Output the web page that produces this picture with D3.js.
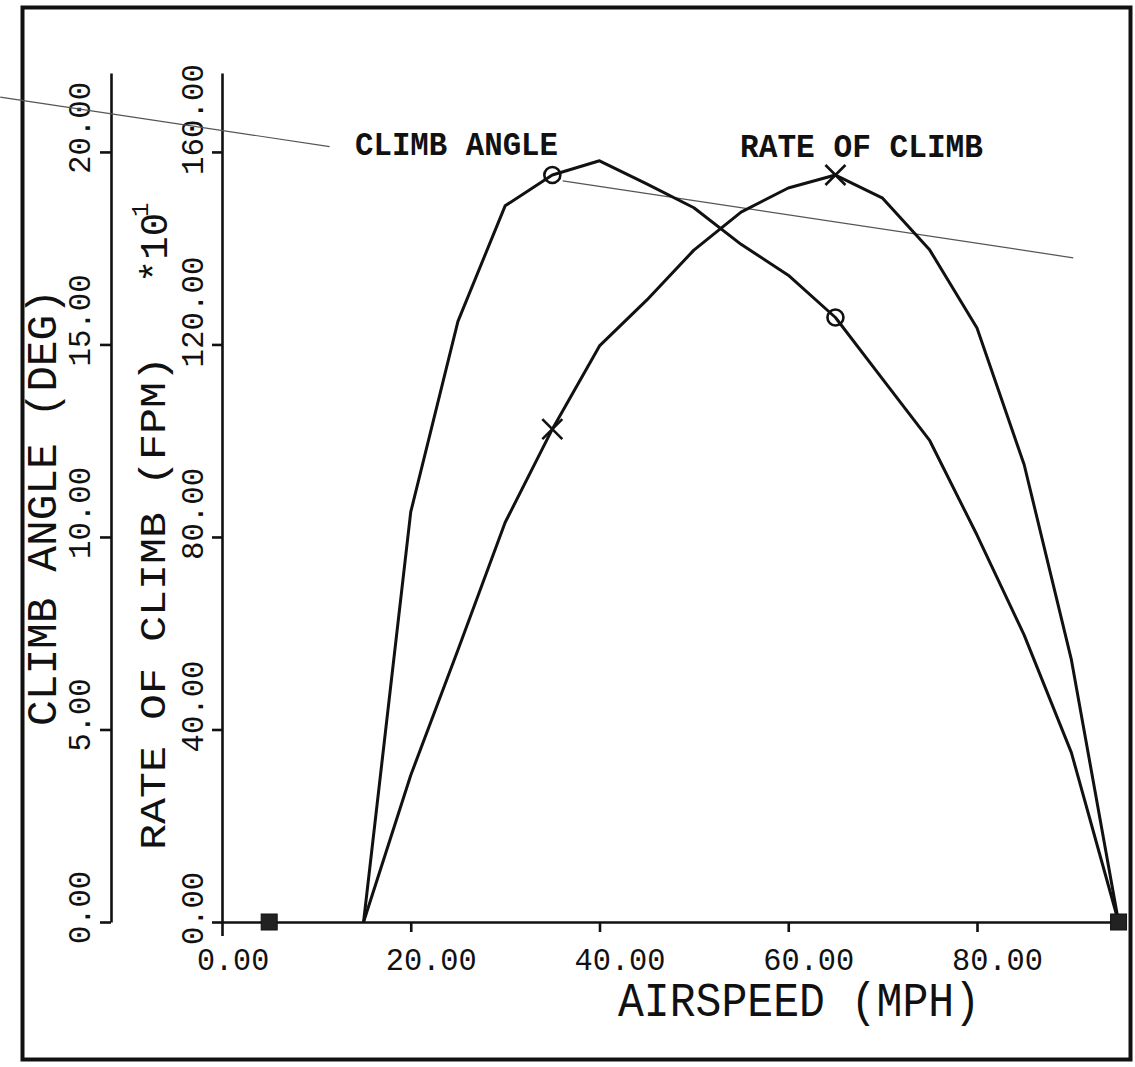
<!DOCTYPE html>
<html>
<head>
<meta charset="utf-8">
<script src="https://cdn.jsdelivr.net/npm/d3@7"></script>
<style>
  html, body { margin: 0; padding: 0; background: #fff; }
  svg { display: block; }
  text { font-family: "Liberation Mono", "DejaVu Sans Mono", monospace; fill: #111; }
</style>
</head>
<body>
<svg id="chart" width="1135" height="1067"></svg>
<script>
// ---------------- data ----------------
const airspeed     = [15, 20, 25, 30, 35, 40, 45, 50, 55, 60, 65, 70, 75, 80, 85, 90, 95];
const climbAngle   = [0, 10.65, 15.6, 18.6, 19.4, 19.77, 19.17, 18.55, 17.6, 16.8, 15.7, 14.1, 12.5, 10.05, 7.45, 4.4, 0];
const rateOfClimb  = [0, 30.5, 56.5, 83, 102.4, 119.7, 129.2, 139.6, 147.5, 152.5, 155.2, 150.4, 139.6, 123.4, 95, 54.5, 0];
const markerSpeeds = [35, 65];
const squareSpeeds = [5, 95];
const xTicks       = [0, 20, 40, 60, 80];
const degTicks     = [0, 5, 10, 15, 20];
const rateTicks    = [0, 40, 80, 120, 160];
// thin reference line (airspeed, rate-of-climb units), drawn in two pieces
const guideA = [[-23.5, 171.4], [11.4, 161.1]];
const guideB = [[36.1, 154.0], [90.2, 138.0]];

// ---------------- scales ----------------
const svg = d3.select("#chart");
const x = d3.scaleLinear().domain([0, 95]).range([222, 222 + 95 * 9.4375]);
const yDeg = d3.scaleLinear().domain([0, 22.05]).range([922, 73]);
const yRate = d3.scaleLinear().domain([0, 176.4]).range([922, 73]);

// frame
svg.append("rect").attr("x", 22.5).attr("y", 7.5).attr("width", 1108).attr("height", 1052)
  .attr("fill", "none").attr("stroke", "#111").attr("stroke-width", 4);

// axes
function styleAxis(g) {
  g.selectAll("path.domain").attr("stroke", "#111").attr("stroke-width", 2.6);
  g.selectAll(".tick line").attr("stroke", "#111").attr("stroke-width", 2.6);
  g.selectAll(".tick text").remove();
}
const degAxis = svg.append("g").attr("transform", "translate(111,0)")
  .call(d3.axisLeft(yDeg).tickValues(degTicks).tickSizeInner(11).tickSizeOuter(0).tickFormat(""));
styleAxis(degAxis);
const rateAxis = svg.append("g").attr("transform", "translate(222,0)")
  .call(d3.axisLeft(yRate).tickValues(rateTicks).tickSizeInner(10).tickSizeOuter(0).tickFormat(""));
styleAxis(rateAxis);
const xAxis = svg.append("g").attr("transform", "translate(0,922)")
  .call(d3.axisBottom(x).tickValues(xTicks).tickSizeInner(10).tickSizeOuter(0).tickFormat(""));
styleAxis(xAxis);
xAxis.selectAll(".tick line").filter(d => d === 0).attr("y2", 14);

// tick labels
const fmt = d3.format(".2f");
svg.append("g").selectAll("text").data(xTicks).join("text")
  .attr("x", d => x(d) - 25).attr("y", 970)
  .attr("font-size", 31).attr("textLength", d => fmt(d).length * 18.8 - 3)
  .attr("lengthAdjust", "spacingAndGlyphs")
  .text(d => fmt(d));
svg.append("g").selectAll("text").data(degTicks).join("text")
  .attr("transform", d => `translate(90,${yDeg(d) + 22}) rotate(-90)`)
  .attr("font-size", 32).attr("textLength", d => fmt(d).length * 19 - 3)
  .attr("lengthAdjust", "spacingAndGlyphs")
  .text(d => fmt(d));
svg.append("g").selectAll("text").data(rateTicks).join("text")
  .attr("transform", d => `translate(203,${yRate(d) + 23}) rotate(-90)`)
  .attr("font-size", 32).attr("textLength", d => fmt(d).length * 19 - 3)
  .attr("lengthAdjust", "spacingAndGlyphs")
  .text(d => fmt(d));

// axis titles
svg.append("text").attr("x", 618).attr("y", 1016)
  .attr("font-size", 48).attr("textLength", 362).attr("lengthAdjust", "spacingAndGlyphs")
  .text("AIRSPEED (MPH)");
svg.append("text").attr("transform", "translate(56,726) rotate(-90)")
  .attr("font-size", 42).attr("textLength", 437).attr("lengthAdjust", "spacingAndGlyphs")
  .text("CLIMB ANGLE (DEG)");
svg.append("text").attr("transform", "translate(165,850) rotate(-90)")
  .attr("font-size", 36).attr("textLength", 494).attr("lengthAdjust", "spacingAndGlyphs")
  .text("RATE OF CLIMB (FPM)");
svg.append("text").attr("transform", "translate(167,283) rotate(-90)")
  .attr("font-size", 38).attr("textLength", 70).attr("lengthAdjust", "spacingAndGlyphs")
  .text("\u266010".replace("\u2660", "*"));
svg.append("text").attr("transform", "translate(148,217) rotate(-90)")
  .attr("font-size", 24).text("1");

// guide line (thin, gray)
const gLine = d3.line().x(d => x(d[0])).y(d => yRate(d[1]));
[guideA, guideB].forEach(seg => {
  svg.append("path").attr("d", gLine(seg)).attr("fill", "none")
    .attr("stroke", "#555").attr("stroke-width", 1.2);
});

// curves
const climbPts = airspeed.map((s, i) => [s, climbAngle[i]]);
const ratePts = airspeed.map((s, i) => [s, rateOfClimb[i]]);
svg.append("path").attr("d", d3.line().x(d => x(d[0])).y(d => yDeg(d[1]))(climbPts))
  .attr("fill", "none").attr("stroke", "#111").attr("stroke-width", 3).attr("stroke-linejoin", "round");
svg.append("path").attr("d", d3.line().x(d => x(d[0])).y(d => yRate(d[1]))(ratePts))
  .attr("fill", "none").attr("stroke", "#111").attr("stroke-width", 3).attr("stroke-linejoin", "round");

// markers
const climbMk = climbPts.filter(p => markerSpeeds.includes(p[0]));
svg.append("g").selectAll("circle").data(climbMk).join("circle")
  .attr("cx", d => x(d[0])).attr("cy", d => yDeg(d[1])).attr("r", 8)
  .attr("fill", "none").attr("stroke", "#111").attr("stroke-width", 2.6);
const rateMk = ratePts.filter(p => markerSpeeds.includes(p[0]));
const xm = svg.append("g").selectAll("g").data(rateMk).join("g")
  .attr("transform", d => `translate(${x(d[0])},${yRate(d[1])})`);
xm.append("path").attr("d", "M-10,-10L10,10M-10,10L10,-10")
  .attr("stroke", "#111").attr("stroke-width", 2.6);
svg.append("g").selectAll("rect").data(squareSpeeds).join("rect")
  .attr("x", d => x(d) - 8).attr("y", yRate(0) - 8).attr("width", 16).attr("height", 16)
  .attr("fill", "#222").attr("stroke", "#111").attr("stroke-width", 1);

// curve labels
svg.append("text").attr("x", 355).attr("y", 155).attr("font-size", 33).attr("font-weight", "bold")
  .attr("textLength", 203).attr("lengthAdjust", "spacingAndGlyphs").text("CLIMB ANGLE");
svg.append("text").attr("x", 740).attr("y", 157).attr("font-size", 33).attr("font-weight", "bold")
  .attr("textLength", 243).attr("lengthAdjust", "spacingAndGlyphs").text("RATE OF CLIMB");
</script>
</body>
</html>
